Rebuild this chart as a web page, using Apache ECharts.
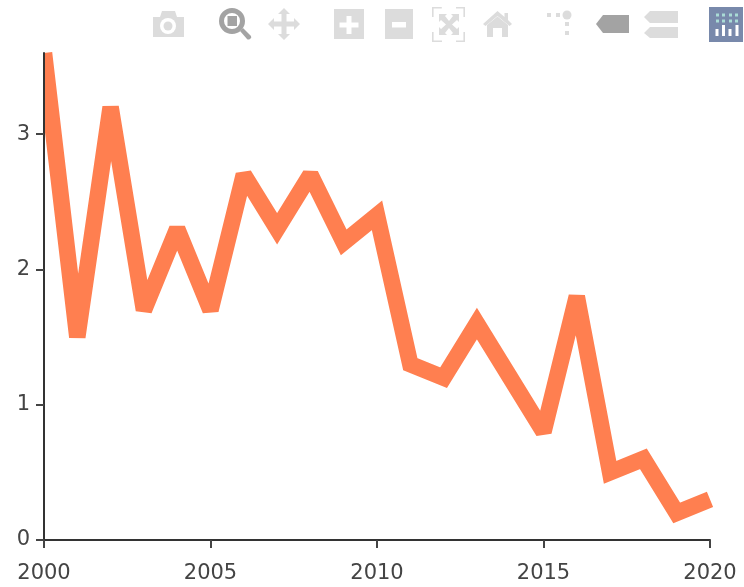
<!DOCTYPE html>
<html>
<head>
<meta charset="utf-8">
<style>
  html, body { margin: 0; padding: 0; background: #fff; }
  #chart-container { width: 744px; height: 587px; }
</style>
<script src="https://cdn.jsdelivr.net/npm/echarts@6/dist/echarts.min.js"></script>
</head>
<body>
<div id="chart-container"></div>
<script>
var years = [2000, 2001, 2002, 2003, 2004, 2005, 2006, 2007, 2008, 2009, 2010,
  2011, 2012, 2013, 2014, 2015, 2016, 2017, 2018, 2019, 2020];
var values = [3.6, 1.5, 3.2, 1.7, 2.3, 1.7, 2.7, 2.3, 2.7, 2.2, 2.4,
  1.3, 1.2, 1.6, 1.2, 0.8, 1.8, 0.5, 0.6, 0.2, 0.3];
var xTicks = [2000, 2005, 2010, 2015, 2020];
var yTicks = [0, 1, 2, 3];

var light = "#dcdcdc";
var dark = "#a3a3a3";

// toolbar icons, same row as the plotly modebar
var iconCount = 0;
function icon(d, fill, stroke) {
  var name = "toolIcon" + iconCount++;
  echarts.graphic.registerShape(name, echarts.graphic.extendPath(d, {}));
  return {
    type: name,
    silent: true,
    style: stroke
      ? { fill: "none", stroke: fill, lineWidth: stroke }
      : { fill: fill, stroke: null },
  };
}

var toolbar = [
  // camera
  icon("M153 17h7l2-6h13l2 6h7v20h-31z", light),
  { type: "circle", silent: true, shape: { cx: 168, cy: 26, r: 8 }, style: { fill: "#ffffff" } },
  { type: "circle", silent: true, shape: { cx: 168, cy: 26, r: 4.5 }, style: { fill: light } },
  // zoom
  { type: "circle", silent: true, shape: { cx: 232, cy: 21, r: 10.5 }, style: { fill: "none", stroke: dark, lineWidth: 5 } },
  icon("M227.5 16h9.5v10h-9.5z", dark),
  icon("M240 31l3-3 8 8q1 2-1 3t-3 0z", dark),
  // pan
  icon("M284 8l6 6h-3.500v7.500h7.500v-3.500l6 6-6 6v-3.500h-7.500v7.500h3.500l-6 6-6-6h3.500v-7.500h-7.500v3.500l-6-6 6-6v3.500h7.500v-7.500h-3.500z", light),
  // zoom in
  icon("M334 9h30v30h-30zM346.500 16v6.500h-7v5h7v6.500h5v-6.500h7v-5h-7v-6.500z", light),
  // zoom out
  icon("M385 9h28v30h-28zM392 22v5.500h14v-5.500z", light),
  // autoscale
  icon("M432.800 17v-9.200h9M456 7.800h8.200v9.200M464.200 32v9.200h-8.200M442 41.200h-9.200v-9.200", light, 1.6),
  icon("M439 14h8l-2 2 4 5 4-5-2-2h8v8l-2-2-5 4.500 5 4.500 2-2v8h-8l2-2-4-5-4 5 2 2h-8v-8l2 2 5-4.500-5-4.500-2 2z", light),
  // home
  icon("M497.500 11l7 6v-4h3.500v7l4 4-2.500 2-12-10-12 10-2.500-2z", light),
  icon("M487 25l10.500-8.500 10.500 8.500v12h-6v-9h-9v9h-6z", light),
  // spikes
  icon("M547 13h4v4h-4zM556 13h4v4h-4zM565 22h4v4h-4zM565 31h4v4h-4z", light),
  { type: "circle", silent: true, shape: { cx: 567, cy: 15, r: 4.500 }, style: { fill: light } },
  // closest data
  icon("M596 24l7-9h26v18h-26z", dark),
  // compare data
  icon("M644 17l6-6h28v12h-28zM644 33l6-6h28v11h-28z", light),
  // logo
  { type: "rect", silent: true, shape: { x: 709, y: 7, width: 34, height: 35 }, style: { fill: "#7889ab" } },
  icon("M715.500 29h3v7h-3zM722 25h3v11h-3zM728.500 29h3v7h-3zM735.500 25h3v11h-3z", "#ffffff"),
  icon("M716 13.500h3v3h-3zM722 13.500h3v3h-3zM729 13.500h3v3h-3zM735 13.500h3v3h-3zM716 19.500h3v3h-3zM722 19.500h3v3h-3zM729 19.500h3v3h-3zM735 19.500h3v3h-3z", "#a9dcd6"),
  // keeps the thick line right of the y axis at the top left
  { type: "rect", silent: true, z: 4, shape: { x: 34, y: 48, width: 9, height: 74 }, style: { fill: "#ffffff" } },
];

var dom = document.getElementById("chart-container");
var myChart = echarts.init(dom, null, { renderer: "canvas" });

myChart.setOption({
  animation: false,
  backgroundColor: "#ffffff",
  grid: { left: 44, right: 34, top: 53, bottom: 47, containLabel: false },
  xAxis: {
    type: "value",
    min: 2000,
    max: 2020,
    interval: 5,
    z: 5,
    axisLine: { show: true, onZero: false, lineStyle: { color: "#333333", width: 2 } },
    axisTick: { show: true, length: 8, lineStyle: { color: "#444444", width: 2 }, customValues: xTicks },
    axisLabel: {
      color: "#444444",
      fontFamily: "DejaVu Sans",
      fontSize: 21,
      margin: 23,
      hideOverlap: false,
      showMinLabel: true,
      showMaxLabel: true,
      customValues: xTicks,
      formatter: function (v) { return String(v); },
    },
    splitLine: { show: false },
  },
  yAxis: {
    type: "value",
    min: 0,
    max: 3.6,
    interval: 1,
    z: 5,
    axisLine: { show: true, onZero: false, lineStyle: { color: "#333333", width: 2 } },
    axisTick: { show: true, length: 8, lineStyle: { color: "#444444", width: 2 }, customValues: yTicks },
    axisLabel: {
      color: "#444444",
      fontFamily: "DejaVu Sans",
      fontSize: 21,
      margin: 14,
      verticalAlignMinLabel: "middle",
      customValues: yTicks,
    },
    splitLine: { show: false },
  },
  series: [
    {
      type: "line",
      data: years.map(function (y, i) { return [y, values[i]]; }),
      showSymbol: false,
      symbol: "none",
      clip: true,
      z: 2,
      lineStyle: { color: "#ff7f50", width: 16.5, join: "miter", miterLimit: 2, cap: "butt" },
    },
  ],
  graphic: { elements: toolbar },
});

window.addEventListener("resize", myChart.resize);
</script>
</body>
</html>
